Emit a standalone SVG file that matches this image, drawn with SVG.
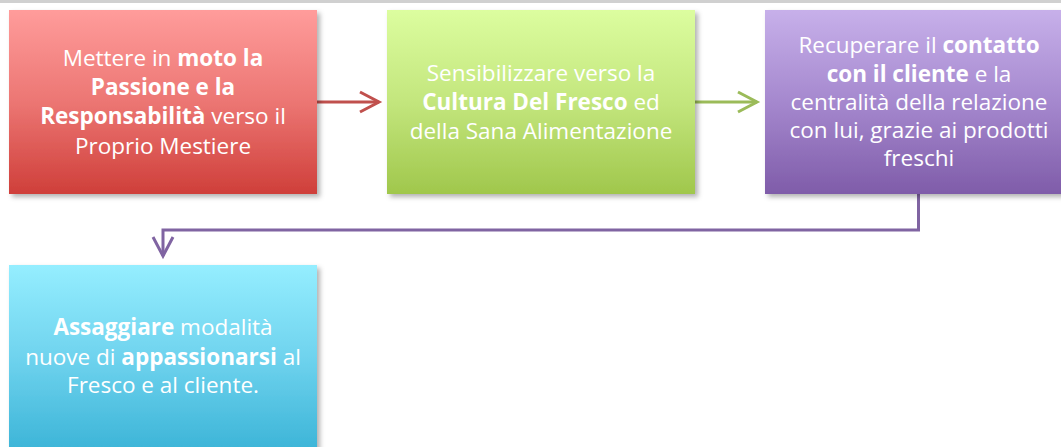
<svg xmlns="http://www.w3.org/2000/svg" width="1061" height="447" viewBox="0 0 1061 447">
<defs>
<linearGradient id="gRed" x1="0" y1="0" x2="0" y2="1"><stop offset="0" stop-color="#FF9C9B"/><stop offset="0.5" stop-color="#EC7673"/><stop offset="1" stop-color="#CF3F3A"/></linearGradient>
<linearGradient id="gGreen" x1="0" y1="0" x2="0" y2="1"><stop offset="0" stop-color="#DCFD9F"/><stop offset="0.5" stop-color="#C3E67D"/><stop offset="1" stop-color="#A0C74C"/></linearGradient>
<linearGradient id="gPurple" x1="0" y1="0" x2="0" y2="1"><stop offset="0" stop-color="#C7B0EA"/><stop offset="0.5" stop-color="#A588CE"/><stop offset="1" stop-color="#7F5CA9"/></linearGradient>
<linearGradient id="gCyan" x1="0" y1="0" x2="0" y2="1"><stop offset="0" stop-color="#95EEFF"/><stop offset="0.5" stop-color="#6FD3EE"/><stop offset="1" stop-color="#3DB5D8"/></linearGradient>
<filter id="shadow" x="-10%" y="-10%" width="130%" height="130%"><feDropShadow dx="3" dy="3" stdDeviation="2.5" flood-color="#000" flood-opacity="0.3"/></filter>
<marker id="arrRed" markerWidth="24" markerHeight="24" refX="20" refY="12" orient="auto" markerUnits="userSpaceOnUse"><path d="M1,2 L20,12 L1,22" fill="none" stroke="#C0504D" stroke-width="3"/></marker>
<marker id="arrGreen" markerWidth="24" markerHeight="24" refX="20" refY="12" orient="auto" markerUnits="userSpaceOnUse"><path d="M1,2 L20,12 L1,22" fill="none" stroke="#9BBB59" stroke-width="3"/></marker>
<marker id="arrPurple" markerWidth="24" markerHeight="24" refX="20" refY="12" orient="auto" markerUnits="userSpaceOnUse"><path d="M1,2 L20,12 L1,22" fill="none" stroke="#8064A2" stroke-width="3"/></marker>
</defs>
<style>
.box{filter:url(#shadow);}
.t{font-family:"Open Sans","Liberation Sans",sans-serif;font-size:22.5px;fill:#fff;text-anchor:middle;}
.b{font-weight:bold;}
.c{fill:none;stroke-width:3;}
</style>
<rect x="0" y="0" width="1061" height="3" fill="#D0D0D0"/>
<g id="connectors">
<path class="c" d="M317,102 H379" stroke="#C0504D" marker-end="url(#arrRed)"/>
<path class="c" d="M695,102 H757" stroke="#9BBB59" marker-end="url(#arrGreen)"/>
<path class="c" d="M918.5,194 V230 H163 V256" stroke="#8064A2" marker-end="url(#arrPurple)"/>
</g>
<g id="node1">
<rect class="box" x="9" y="10" width="308" height="184" fill="url(#gRed)"/>
<text class="t" x="163" y="66">Mettere in <tspan class="b">moto la</tspan></text>
<text class="t" x="163" y="95"><tspan class="b">Passione e la</tspan></text>
<text class="t" x="163" y="124"><tspan class="b">Responsabilità</tspan> verso il</text>
<text class="t" x="163" y="154">Proprio Mestiere</text>
</g>
<g id="node2">
<rect class="box" x="387" y="10" width="308" height="184" fill="url(#gGreen)"/>
<text class="t" x="541" y="81">Sensibilizzare verso la</text>
<text class="t" x="541" y="110"><tspan class="b">Cultura Del Fresco</tspan> ed</text>
<text class="t" x="541" y="139">della Sana Alimentazione</text>
</g>
<g id="node3">
<rect class="box" x="765" y="10" width="308" height="184" fill="url(#gPurple)"/>
<text class="t" x="919" y="53">Recuperare il <tspan class="b">contatto</tspan></text>
<text class="t" x="919" y="82"><tspan class="b">con il cliente</tspan> e la</text>
<text class="t" x="919" y="110">centralità della relazione</text>
<text class="t" x="919" y="138">con lui, grazie ai prodotti</text>
<text class="t" x="919" y="166">freschi</text>
</g>
<g id="node4">
<rect class="box" x="9" y="265" width="308" height="184" fill="url(#gCyan)"/>
<text class="t" x="163" y="335"><tspan class="b">Assaggiare</tspan> modalità</text>
<text class="t" x="163" y="365">nuove di <tspan class="b">appassionarsi</tspan> al</text>
<text class="t" x="163" y="393">Fresco e al cliente.</text>
</g>
</svg>
